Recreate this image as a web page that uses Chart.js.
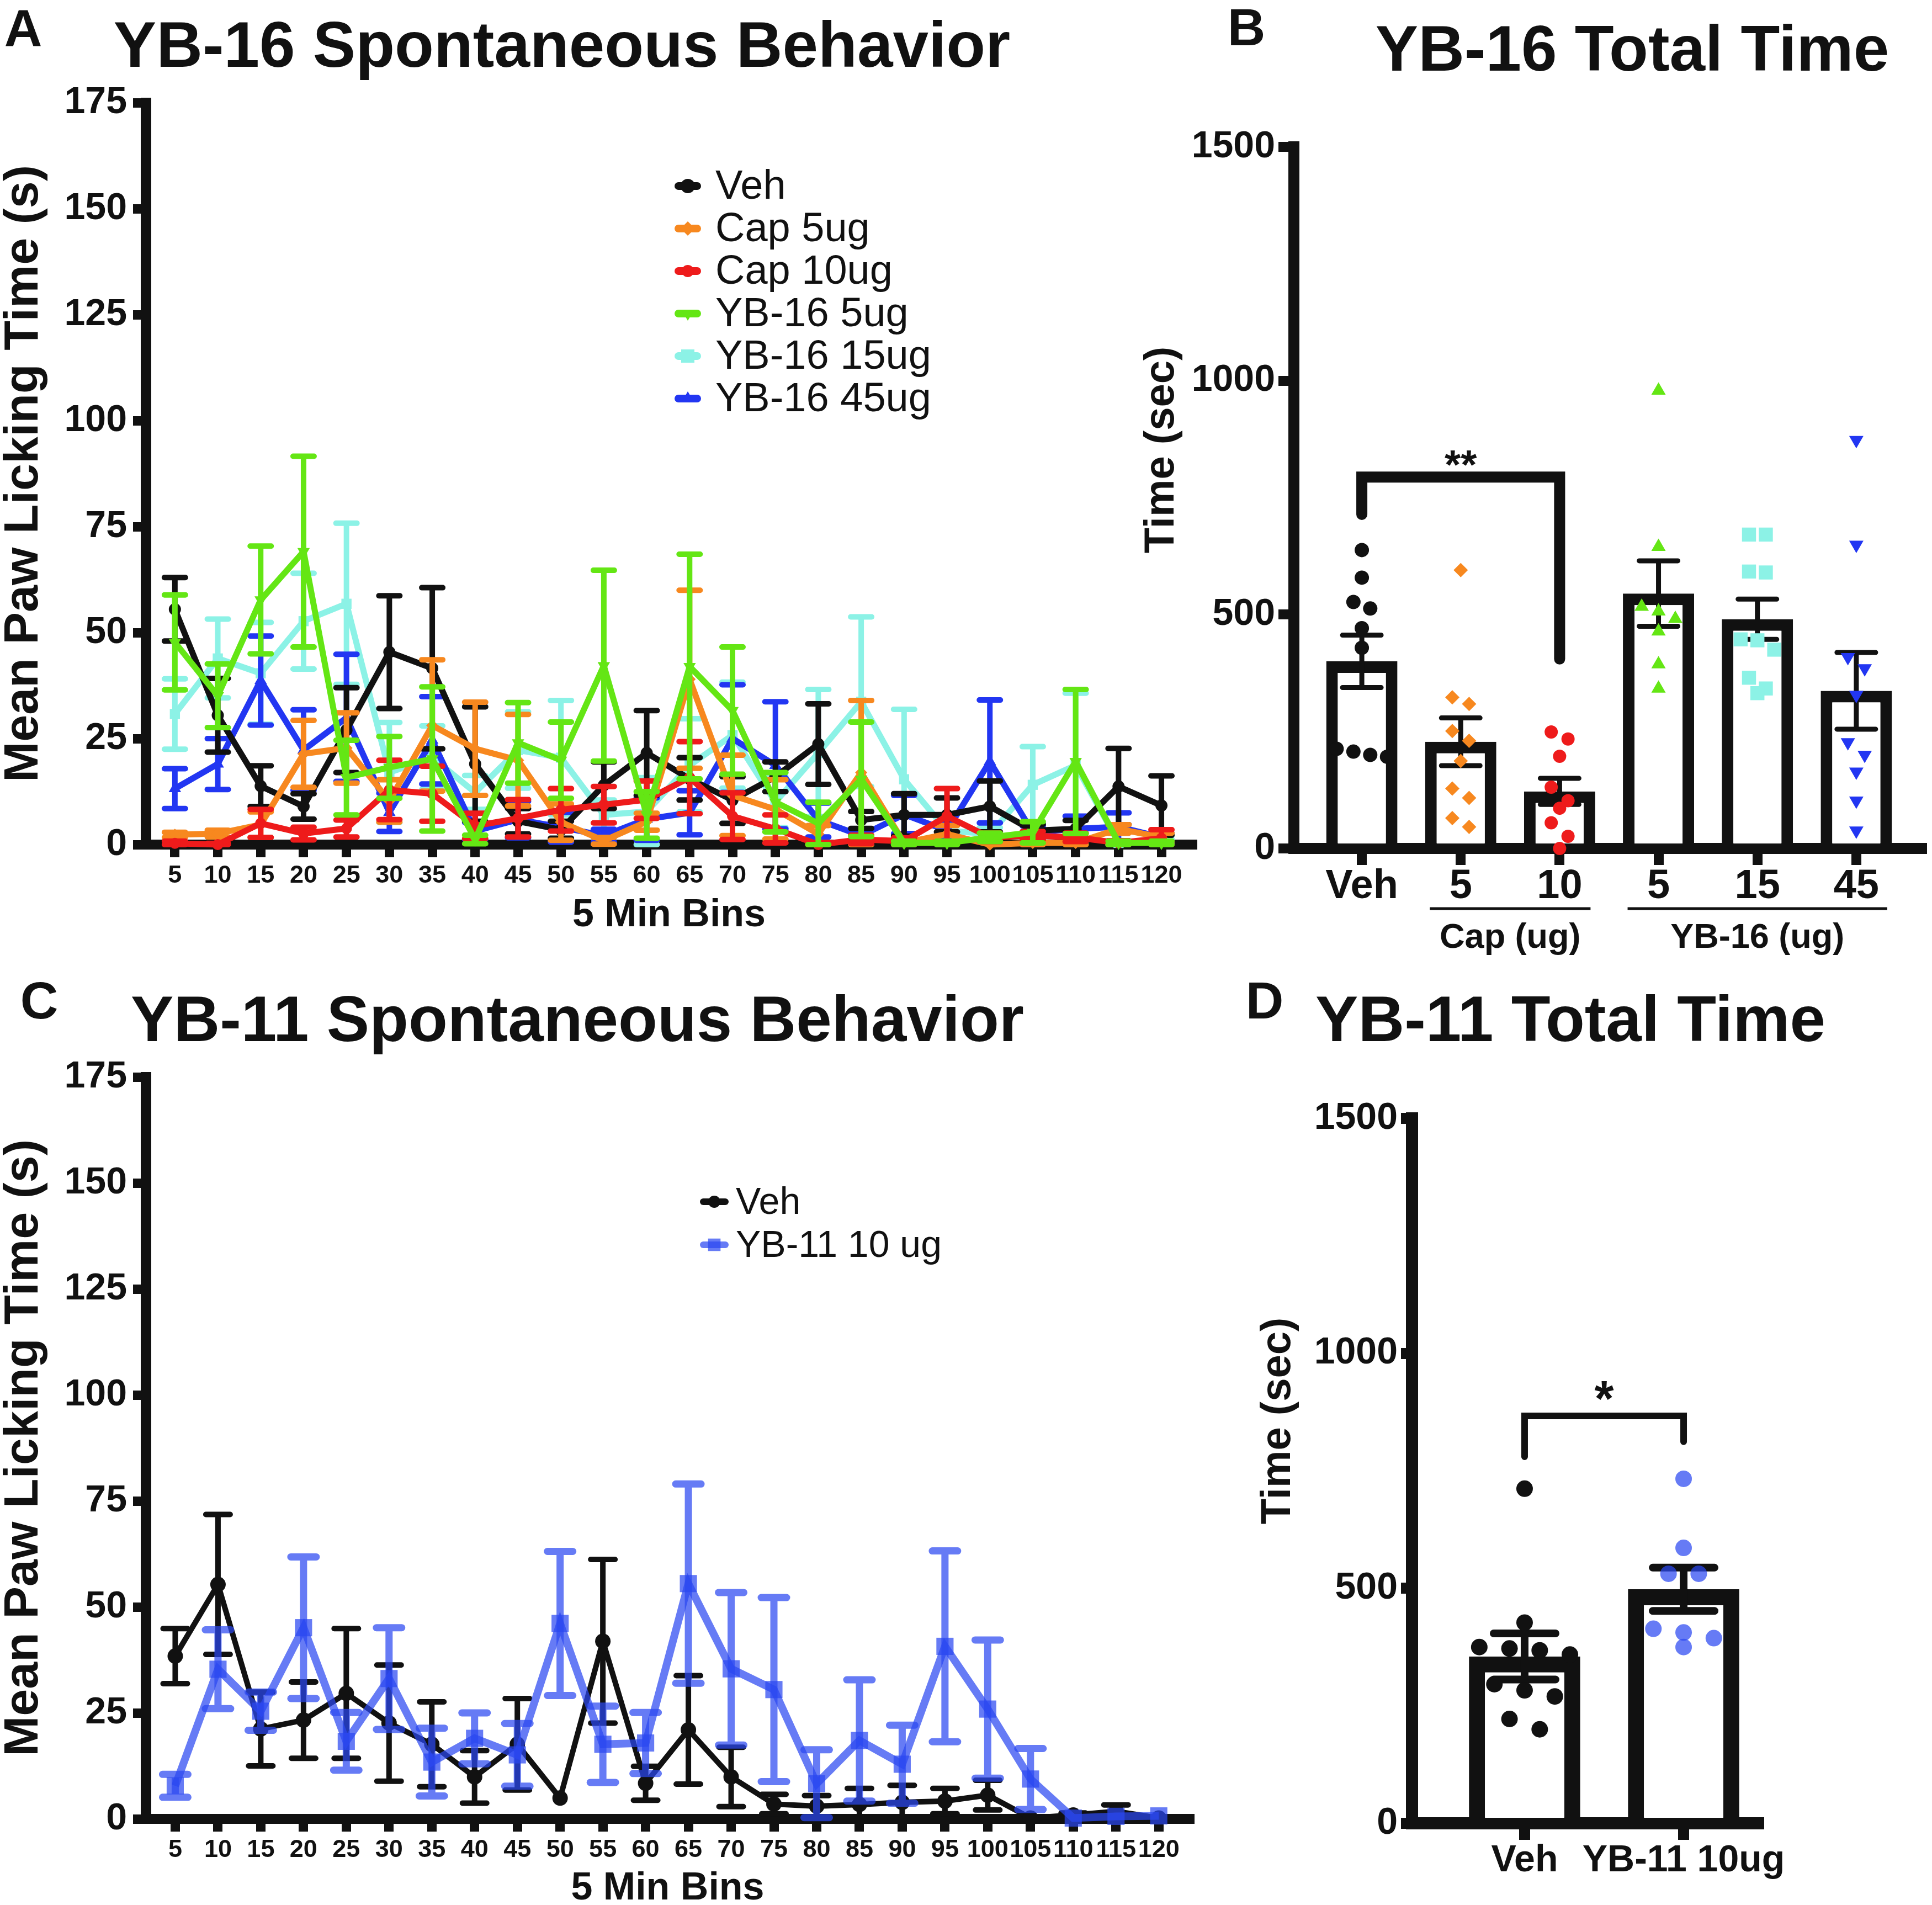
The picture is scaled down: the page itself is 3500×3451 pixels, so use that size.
<!DOCTYPE html>
<html>
<head>
<meta charset="utf-8">
<title>YB-16 / YB-11 spontaneous paw licking</title>
<script src="https://cdn.jsdelivr.net/npm/chart.js@4.4.1/dist/chart.umd.min.js"></script>
<style>
  html, body { margin: 0; padding: 0; background: #ffffff; }
  body { width: 3500px; height: 3451px; position: relative; overflow: hidden; }
  canvas { position: absolute; }
</style>
</head>
<body>
<canvas id="panelA" width="2200" height="1720" style="left:0px;top:0px;width:2200px;height:1720px;"></canvas>
<canvas id="panelB" width="1450" height="1760" style="left:2050px;top:0px;width:1450px;height:1760px;"></canvas>
<canvas id="panelC" width="2200" height="1711" style="left:0px;top:1740px;width:2200px;height:1711px;"></canvas>
<canvas id="panelD" width="1300" height="1711" style="left:2200px;top:1740px;width:1300px;height:1711px;"></canvas>
<script>
// ================= DATA =================
const bins = [5,10,15,20,25,30,35,40,45,50,55,60,65,70,75,80,85,90,95,100,105,110,115,120];

// Panel A: YB-16 spontaneous behaviour (mean, SEM)
const vehA      = [55.5,30.5,13.8,9.0,27.0,45.4,41.6,19.0,5.5,3.5,14.0,21.6,15.5,10.5,16.0,23.7,5.8,7.0,7.0,9.0,3.3,3.7,13.7,9.2];
const vehAErr   = [7.5,8.7,4.8,3.0,10.0,13.3,19.0,13.5,3.0,2.0,5.5,10.0,5.0,5.5,3.5,9.5,2.0,5.0,4.0,6.0,1.5,2.0,9.0,7.0];
const cap5A     = [2.3,2.6,4.7,21.4,22.8,10.3,28.1,22.6,19.9,5.3,0.9,5.4,39.0,11.6,8.3,2.5,17.0,0.4,2.5,0.0,0.4,0.4,3.7,1.7];
const cap5AErr  = [0.6,0.8,3.0,7.9,8.3,5.0,15.5,11.0,10.8,4.3,0.8,2.0,21.0,9.5,7.0,2.0,17.0,0.4,2.0,0.0,0.4,0.4,1.0,1.0];
const cap10A    = [0.3,0.0,5.0,2.6,3.8,12.9,12.0,4.4,6.2,8.2,9.4,10.6,15.8,6.7,3.7,0.0,1.2,0.8,6.7,1.7,2.1,1.7,0.4,1.5];
const cap10AErr = [0.5,0.3,3.3,1.5,2.0,7.0,6.5,3.0,4.4,5.0,4.3,4.4,8.5,5.5,3.3,0.5,1.0,0.8,6.5,1.0,1.0,1.0,0.5,2.0];
const yb5A      = [47.7,35.1,57.7,69.1,15.8,18.2,20.2,1.2,24.0,19.9,42.2,7.0,42.0,31.6,10.0,5.0,15.4,0.4,0.4,1.7,2.9,19.6,0.4,0.4];
const yb5AErr   = [11.2,7.5,12.7,22.5,8.8,7.3,17.0,1.0,9.5,9.0,22.5,5.5,26.5,15.0,7.0,5.0,13.5,0.4,0.4,1.0,2.5,17.0,0.4,0.4];
const yb15A     = [30.8,43.9,40.4,52.7,56.8,17.0,20.5,12.3,22.3,20.5,7.0,7.8,18.7,25.8,10.0,21.6,33.7,15.4,3.3,2.5,14.1,18.7,0.4,0.8];
const yb15AErr  = [8.3,9.3,12.0,11.3,19.0,11.8,7.5,4.0,9.0,13.5,3.5,8.0,11.0,12.5,6.0,15.0,20.0,16.5,2.0,1.5,9.0,17.0,0.4,0.5];
const yb45A     = [13.2,19.0,38.7,22.3,29.9,7.6,24.6,3.2,5.9,4.1,2.1,6.0,7.5,25.0,18.7,5.8,2.1,7.1,3.3,19.6,2.9,3.7,4.2,1.7];
const yb45AErr  = [4.7,6.0,10.5,9.5,15.0,4.5,10.3,2.0,4.3,3.5,1.5,5.0,5.2,12.7,15.0,4.0,1.5,4.5,2.0,14.5,1.5,3.0,3.3,1.0];
const labelsA   = ['Veh','Cap 5ug','Cap 10ug','YB-16 5ug','YB-16 15ug','YB-16 45ug'];

// Panel B: YB-16 total time
const groupsB   = ['Veh','5','10','5','15','45'];
const meansB    = [400, 228, 122, 545, 490, 337];
const semB      = [56, 51, 28, 70, 43, 82];
const vehB      = [638, 579, 527, 513, 471, 429, 213, 207, 200, 196];
const cap5B     = [595, 323, 309, 251, 230, 187, 128, 108, 65, 46];
const cap10B    = [249, 234, 197, 131, 102, 86, 55, 26, 0];
const yb5B      = [979, 645, 517, 507, 491, 464, 394, 342];
const yb15B     = [671, 671, 592, 590, 447, 445, 425, 365, 342, 332];
const yb45B     = [873, 649, 409, 385, 328, 227, 200, 164, 102, 38];
const sigB      = [794, 714, 405];          // bracket top, left end, right end
const bandsB    = [{ label: 'Cap (ug)', from: 1, to: 2 }, { label: 'YB-16 (ug)', from: 3, to: 5 }];

// Panel C: YB-11 spontaneous behaviour
const vehC      = [38.4,55.3,21.2,23.3,29.6,22.6,17.6,9.9,17.6,4.9,41.9,8.4,21.0,9.9,3.5,3.0,3.4,3.9,4.2,5.6,0.2,0.9,1.8,0.2];
const vehCErr   = [6.5,16.5,8.7,9.0,15.3,13.7,10.0,6.2,10.8,0.0,19.3,4.0,12.8,7.0,2.3,2.5,3.8,4.0,3.0,3.5,0.0,0.5,1.5,0.0];
const yb11C     = [7.8,35.3,25.4,45.1,18.3,33.1,13.4,19.0,15.1,46.1,17.6,17.9,55.5,35.4,30.5,8.3,18.5,12.9,40.7,25.9,9.4,0.2,0.6,0.7];
const yb11CErr  = [2.7,9.3,4.5,16.7,6.8,12.0,8.0,6.0,7.4,17.0,9.0,7.2,23.5,18.0,21.7,8.0,14.3,9.2,22.5,16.3,7.2,0.0,0.0,0.0];
const labelsC   = ['Veh','YB-11 10 ug'];

// Panel D: YB-11 total time
const groupsD   = ['Veh','YB-11 10ug'];
const meansD    = [355, 498];
const semD      = [49, 46];
const vehD      = [712, 427, 375, 372, 368, 359, 296, 283, 270, 222, 200];
const yb11D     = [733, 586, 531, 531, 414, 406, 394, 375];
const sigD      = [867, 780, 812];

// ================= STYLE =================
const FONT = "'Liberation Sans', Arial, Helvetica, sans-serif";
Chart.defaults.font.family = FONT;
Chart.defaults.color = '#111111';
const INK = '#111111';
const ORANGE = '#F7881F';
const RED = '#EE1B1B';
const GREEN = '#64E614';
const CYAN = '#8CF2E6';
const BLUE = '#2236F2';
const BLUE_T = 'rgba(43,72,241,0.72)';

// ================= HELPERS / PLUGINS =================
function pts(xs, ys) { return ys.map((v, i) => ({ x: xs[i], y: v })); }

// simple beeswarm: values close in y are spread side by side around the group centre
function swarm(vals, center, step, thresh) {
  const sorted = vals.map((v, i) => ({ v, i })).sort((a, b) => b.v - a.v);
  const out = new Array(vals.length);
  let k = 0;
  while (k < sorted.length) {
    let j = k + 1;
    while (j < sorted.length && sorted[k].v - sorted[j].v < thresh) j++;
    const n = j - k;
    for (let m = 0; m < n; m++) out[sorted[k + m].i] = { x: center + (m - (n - 1) / 2) * step, y: sorted[k + m].v };
    k = j;
  }
  return out;
}

function drawErrors(chart, index, after) {
  const ds = chart.data.datasets[index];
  if (!ds.errors || (!!ds.errorsOnTop) !== after) return;
  const meta = chart.getDatasetMeta(index);
  const ys = chart.scales[meta.yAxisID];
  const st = ds.errorStyle;
  const ctx = chart.ctx;
  ctx.save();
  ctx.strokeStyle = st.color;
  ctx.lineWidth = st.width;
  ctx.lineCap = 'round';
  ctx.lineJoin = 'round';
  meta.data.forEach((el, i) => {
    const e = ds.errors[i];
    if (!e) return;
    const v = ds.data[i].y;
    const x = el.x;
    const yHi = ys.getPixelForValue(v + e);
    const yLo = ys.getPixelForValue(Math.max(ys.min, v - e));
    const hw = st.capWidth / 2;
    ctx.beginPath();
    ctx.moveTo(x, yHi); ctx.lineTo(x, yLo);
    ctx.moveTo(x - hw, yHi); ctx.lineTo(x + hw, yHi);
    ctx.moveTo(x - hw, yLo); ctx.lineTo(x + hw, yLo);
    ctx.stroke();
  });
  ctx.restore();
}
const errorBarPlugin = {
  id: 'errorBars',
  beforeDatasetDraw(chart, args) { drawErrors(chart, args.index, false); },
  afterDatasetDraw(chart, args) { drawErrors(chart, args.index, true); }
};

function makeTexts(items) {
  return {
    id: 'panelTexts',
    afterDraw(chart) {
      const ctx = chart.ctx;
      items.forEach(t => {
        ctx.save();
        ctx.font = t.font;
        ctx.fillStyle = INK;
        ctx.textAlign = t.align || 'center';
        ctx.textBaseline = t.baseline || 'alphabetic';
        ctx.translate(t.x, t.y);
        if (t.rotation) ctx.rotate(t.rotation);
        ctx.fillText(t.text, 0, 0);
        ctx.restore();
      });
    }
  };
}

function makeLegend(cfg) {
  return {
    id: 'panelLegend',
    afterDraw(chart) {
      const ctx = chart.ctx;
      cfg.items.forEach((it, k) => {
        const y = cfg.y0 + k * cfg.dy;
        const my = y + cfg.markDy;
        ctx.save();
        ctx.strokeStyle = it.color;
        ctx.fillStyle = it.color;
        ctx.lineWidth = cfg.lineWidth;
        ctx.lineCap = 'round';
        ctx.beginPath();
        ctx.moveTo(cfg.x - cfg.lineLen / 2, my);
        ctx.lineTo(cfg.x + cfg.lineLen / 2, my);
        ctx.stroke();
        Chart.helpers.drawPoint(ctx, { pointStyle: it.style, rotation: it.rot, radius: it.radius, borderWidth: 0 }, cfg.x, my);
        ctx.font = cfg.font;
        ctx.fillStyle = INK;
        ctx.textAlign = 'left';
        ctx.textBaseline = 'middle';
        ctx.fillText(it.label, cfg.textX, y);
        ctx.restore();
      });
    }
  };
}

function makeBracket(cfg) {
  return {
    id: 'sigBracket',
    afterDatasetsDraw(chart) {
      const xs = chart.scales.x, ys = chart.scales.y, ctx = chart.ctx;
      const x1 = xs.getPixelForValue(cfg.from), x2 = xs.getPixelForValue(cfg.to);
      const yt = ys.getPixelForValue(cfg.values[0]);
      const y1 = ys.getPixelForValue(cfg.values[1]);
      const y2 = ys.getPixelForValue(cfg.values[2]);
      ctx.save();
      ctx.strokeStyle = INK;
      ctx.lineWidth = cfg.lineWidth;
      ctx.lineJoin = 'miter';
      ctx.lineCap = 'round';
      ctx.beginPath();
      ctx.moveTo(x1, y1); ctx.lineTo(x1, yt); ctx.lineTo(x2, yt); ctx.lineTo(x2, y2);
      ctx.stroke();
      ctx.font = cfg.font;
      ctx.fillStyle = INK;
      ctx.textAlign = 'center';
      ctx.textBaseline = 'middle';
      ctx.fillText(cfg.label, (x1 + x2) / 2, yt + cfg.labelDy);
      ctx.restore();
    }
  };
}

function makeBands(bands, cfg) {
  return {
    id: 'groupBands',
    afterDraw(chart) {
      const xs = chart.scales.x, ctx = chart.ctx, yb = chart.chartArea.bottom;
      bands.forEach(b => {
        const x1 = xs.getPixelForValue(b.from) - cfg.ext;
        const x2 = xs.getPixelForValue(b.to) + cfg.ext;
        ctx.save();
        ctx.strokeStyle = INK;
        ctx.lineWidth = cfg.lineWidth;
        ctx.beginPath(); ctx.moveTo(x1, yb + cfg.lineDy); ctx.lineTo(x2, yb + cfg.lineDy); ctx.stroke();
        ctx.font = cfg.font; ctx.fillStyle = INK; ctx.textAlign = 'center'; ctx.textBaseline = 'middle';
        ctx.fillText(b.label, (x1 + x2) / 2, yb + cfg.labelDy);
        ctx.restore();
      });
    }
  };
}

function axisLook(borderW, tickLen, tickW) {
  return {
    offset: false,
    border: { display: true, width: borderW, color: INK },
    grid: { display: true, offset: false, drawOnChartArea: false, drawTicks: true, tickLength: tickLen,
            tickWidth: tickW, tickColor: INK, color: INK, lineWidth: tickW }
  };
}

function timeScales(o) {
  return {
    x: Object.assign({
      type: 'linear', min: o.xMin, max: o.xMax,
      afterBuildTicks: axis => { axis.ticks = bins.map(v => ({ value: v })); },
      afterFit: s => { s.height = o.xHeight; },
      ticks: { autoSkip: false, maxRotation: 0, minRotation: 0, padding: 7, color: INK,
               font: { size: 45, weight: 'bold', lineHeight: 1.2 }, callback: v => String(v) },
      title: { display: true, text: '5 Min Bins', color: INK,
               font: { size: 70, weight: 'bold', lineHeight: o.xTitleLH }, padding: { top: 0, bottom: o.xTitlePad } }
    }, axisLook(18, 23, 17)),
    y: Object.assign({
      type: 'linear', min: 0, max: 175,
      afterFit: s => { s.width = 264; },
      ticks: { stepSize: 25, padding: 11, color: INK, font: { size: 68, weight: 'bold' }, callback: v => String(v) },
      title: { display: true, text: 'Mean Paw Licking Time (s)', color: INK,
               font: { size: 88, weight: 'bold', lineHeight: 1.0 }, padding: { top: 0, bottom: 0 } }
    }, axisLook(19, 23, 17))
  };
}

const commonOpts = {
  responsive: false, animation: false, devicePixelRatio: 1, events: [],
  plugins: { legend: { display: false }, tooltip: { enabled: false }, title: { display: false } }
};

// ================= PANEL A =================
const seriesA = [
  { vals: vehA,   errs: vehAErr,   color: INK,    style: 'circle',   rot: 0,   r: 11, lr: 13, order: 3 },
  { vals: cap5A,  errs: cap5AErr,  color: ORANGE, style: 'rectRot',  rot: 0,   r: 11, lr: 13, order: 2 },
  { vals: cap10A, errs: cap10AErr, color: RED,    style: 'circle',   rot: 0,   r: 10, lr: 11, order: 1 },
  { vals: yb5A,   errs: yb5AErr,   color: GREEN,  style: 'triangle', rot: 180, r: 13, lr: 13, order: 0 },
  { vals: yb15A,  errs: yb15AErr,  color: CYAN,   style: 'rect',     rot: 0,   r: 13, lr: 17, order: 5 },
  { vals: yb45A,  errs: yb45AErr,  color: BLUE,   style: 'triangle', rot: 0,   r: 13, lr: 13, order: 4 }
];
new Chart(document.getElementById('panelA'), {
  type: 'line',
  data: {
    datasets: seriesA.map((s, k) => ({
      label: labelsA[k], data: pts(bins, s.vals), errors: s.errs,
      errorStyle: { color: s.color, width: 10, capWidth: 38 },
      borderColor: s.color, backgroundColor: s.color, borderWidth: 11, tension: 0,
      pointStyle: s.style, pointRotation: s.rot, pointRadius: s.r, pointBorderWidth: 0,
      pointBackgroundColor: s.color, order: s.order, clip: false
    }))
  },
  options: Object.assign({}, commonOpts, {
    layout: { padding: { top: 186, right: 40, left: 0, bottom: 0 } },
    scales: timeScales({ xMin: 1.6, xMax: 123.6, xHeight: 190, xTitleLH: 1.2, xTitlePad: 19 })
  }),
  plugins: [
    errorBarPlugin,
    makeLegend({ x: 1246, textX: 1296, y0: 340, dy: 77, markDy: -3, lineLen: 34, lineWidth: 14,
                 font: `74px ${FONT}`,
                 items: seriesA.map((s, k) => ({ label: labelsA[k], color: s.color, style: s.style, rot: s.rot, radius: s.lr })) }),
    makeTexts([
      { text: 'A', x: 42, y: 84, font: `bold 95px ${FONT}` },
      { text: 'YB-16 Spontaneous Behavior', x: 1018, y: 121, font: `bold 116px ${FONT}` }
    ])
  ]
});

// ================= PANEL B =================
const pointSetsB = [
  { vals: vehB,   color: INK,    style: 'circle',   rot: 0,   r: 13 },
  { vals: cap5B,  color: ORANGE, style: 'rectRot',  rot: 0,   r: 13 },
  { vals: cap10B, color: RED,    style: 'circle',   rot: 0,   r: 12 },
  { vals: yb5B,   color: GREEN,  style: 'triangle', rot: 0,   r: 15 },
  { vals: yb15B,  color: CYAN,   style: 'rect',     rot: 0,   r: 18 },
  { vals: yb45B,  color: BLUE,   style: 'triangle', rot: 180, r: 15 }
];
new Chart(document.getElementById('panelB'), {
  type: 'bar',
  data: {
    datasets: [
      {
        type: 'bar', data: meansB.map((v, i) => ({ x: i, y: v })), errors: semB, errorsOnTop: true,
        errorStyle: { color: INK, width: 9, capWidth: 70 },
        backgroundColor: '#ffffff', borderColor: INK, borderWidth: 21, borderSkipped: 'start',
        categoryPercentage: 0.8, barPercentage: 0.9, order: 1
      }
    ].concat(pointSetsB.map((s, g) => ({
      type: 'scatter', data: swarm(s.vals, g, 0.17, 30),
      pointStyle: s.style, pointRotation: s.rot, pointRadius: s.r, pointBorderWidth: 0,
      backgroundColor: s.color, borderColor: s.color, pointBackgroundColor: s.color, order: 0, clip: false
    })))
  },
  options: Object.assign({}, commonOpts, {
    layout: { padding: { top: 266, right: 0, left: 0, bottom: 0 } },
    scales: {
      x: Object.assign({
        type: 'linear', min: -0.687, max: 5.665,
        afterBuildTicks: axis => { axis.ticks = groupsB.map((_, i) => ({ value: i })); },
        afterFit: s => { s.height = 223; },
        ticks: { autoSkip: false, maxRotation: 0, minRotation: 0, padding: 3, color: INK,
                 font: { size: 74, weight: 'bold', lineHeight: 1.0 }, callback: v => groupsB[v] }
      }, axisLook(20, 30, 18)),
      y: Object.assign({
        type: 'linear', min: 0, max: 1500,
        afterFit: s => { s.width = 294; },
        ticks: { stepSize: 500, padding: 6, color: INK, font: { size: 68, weight: 'bold' }, callback: v => String(v) }
      }, axisLook(20, 28, 18))
    }
  }),
  plugins: [
    errorBarPlugin,
    makeBracket({ from: 0, to: 2, values: sigB, label: '**', lineWidth: 20, font: `bold 75px ${FONT}`, labelDy: -18 }),
    makeBands(bandsB, { ext: 56, lineDy: 109, labelDy: 163, lineWidth: 5, font: `bold 63px ${FONT}` }),
    makeTexts([
      { text: 'B', x: 208, y: 82, font: `bold 95px ${FONT}` },
      { text: 'YB-16 Total Time', x: 907, y: 128, font: `bold 116px ${FONT}` },
      { text: 'Time (sec)', x: 55, y: 815, rotation: -Math.PI / 2, baseline: 'middle', font: `bold 76px ${FONT}` }
    ])
  ]
});

// ================= PANEL C =================
const seriesC = [
  { vals: vehC,  errs: vehCErr,  color: INK,    style: 'circle', r: 14, lw: 10, ew: 10, cap: 44, order: 1, legR: 11 },
  { vals: yb11C, errs: yb11CErr, color: BLUE_T, style: 'rect',   r: 22, lw: 14, ew: 13, cap: 46, order: 0, legR: 16 }
];
new Chart(document.getElementById('panelC'), {
  type: 'line',
  data: {
    datasets: seriesC.map((s, k) => ({
      label: labelsC[k], data: pts(bins, s.vals), errors: s.errs,
      errorStyle: { color: s.color, width: s.ew, capWidth: s.cap },
      borderColor: s.color, backgroundColor: s.color, borderWidth: s.lw, tension: 0,
      pointStyle: s.style, pointRadius: s.r, pointBorderWidth: 0,
      pointBackgroundColor: s.color, order: s.order, clip: false
    }))
  },
  options: Object.assign({}, commonOpts, {
    layout: { padding: { top: 211, right: 45, left: 0, bottom: 0 } },
    scales: timeScales({ xMin: 1.55, xMax: 123.6, xHeight: 156, xTitleLH: 0.85, xTitlePad: 0 })
  }),
  plugins: [
    errorBarPlugin,
    makeLegend({ x: 1294, textX: 1333, y0: 440, dy: 78, markDy: -3, lineLen: 40, lineWidth: 12,
                 font: `68px ${FONT}`,
                 items: seriesC.map((s, k) => ({ label: labelsC[k], color: s.color, style: s.style, rot: 0, radius: s.legR })) }),
    makeTexts([
      { text: 'C', x: 71, y: 105, font: `bold 95px ${FONT}` },
      { text: 'YB-11 Spontaneous Behavior', x: 1046, y: 146, font: `bold 116px ${FONT}` }
    ])
  ]
});

// ================= PANEL D =================
const pointSetsD = [
  { vals: vehD,  color: INK },
  { vals: yb11D, color: BLUE_T }
];
new Chart(document.getElementById('panelD'), {
  type: 'bar',
  data: {
    datasets: [
      {
        type: 'bar', data: meansD.map((v, i) => ({ x: i, y: v })), errors: semD, errorsOnTop: true,
        errorStyle: { color: INK, width: 14, capWidth: 112 },
        backgroundColor: '#ffffff', borderColor: INK, borderWidth: 29, borderSkipped: 'start',
        categoryPercentage: 0.8, barPercentage: 0.875, order: 1
      }
    ].concat(pointSetsD.map((s, g) => ({
      type: 'scatter', data: swarm(s.vals, g, 0.19, 35),
      pointStyle: 'circle', pointRadius: 15, pointBorderWidth: 0,
      backgroundColor: s.color, borderColor: s.color, pointBackgroundColor: s.color, order: 0, clip: false
    })))
  },
  options: Object.assign({}, commonOpts, {
    layout: { padding: { top: 286, right: 314, left: 0, bottom: 0 } },
    scales: {
      x: Object.assign({
        type: 'linear', min: -0.708, max: 1.472,
        afterBuildTicks: axis => { axis.ticks = groupsD.map((_, i) => ({ value: i })); },
        afterFit: s => { s.height = 148; },
        ticks: { autoSkip: false, maxRotation: 0, minRotation: 0, padding: 4, color: INK,
                 font: { size: 68, weight: 'bold', lineHeight: 1.0 }, callback: v => groupsD[v] }
      }, axisLook(22, 30, 20)),
      y: Object.assign({
        type: 'linear', min: 0, max: 1500,
        afterFit: s => { s.width = 358; },
        ticks: { stepSize: 500, padding: 6, color: INK, font: { size: 68, weight: 'bold' }, callback: v => String(v) }
      }, axisLook(22, 20, 20))
    }
  }),
  plugins: [
    errorBarPlugin,
    makeBracket({ from: 0, to: 1, values: sigD, label: '*', lineWidth: 12, font: `bold 90px ${FONT}`, labelDy: -25 }),
    makeTexts([
      { text: 'D', x: 91, y: 105, font: `bold 95px ${FONT}` },
      { text: 'YB-11 Total Time', x: 645, y: 146, font: `bold 116px ${FONT}` },
      { text: 'Time (sec)', x: 116, y: 834, rotation: -Math.PI / 2, baseline: 'middle', font: `bold 76px ${FONT}` }
    ])
  ]
});
</script>
</body>
</html>
